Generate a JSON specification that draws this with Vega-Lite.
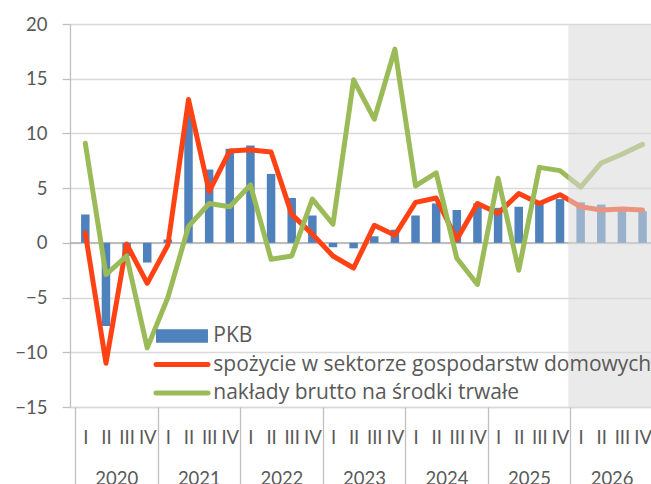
{
  "$schema": "https://vega.github.io/schema/vega-lite/v6.json",
  "width": 581,
  "height": 383,
  "autosize": {"type": "none"},
  "padding": {"left": 70, "top": 24, "right": 0, "bottom": 77},
  "background": "white",
  "config": {"view": {"stroke": null}, "font": "Lato"},
  "data": {
    "values": [
      {"t": 0, "pkb": 2.6, "kons": 0.9, "inw": 9.1},
      {"t": 1, "pkb": -7.6, "kons": -11.0, "inw": -2.9},
      {"t": 2, "pkb": -1.2, "kons": -0.1, "inw": -1.2},
      {"t": 3, "pkb": -1.8, "kons": -3.7, "inw": -9.6},
      {"t": 4, "pkb": 0.3, "kons": -0.2, "inw": -5.0},
      {"t": 5, "pkb": 11.8, "kons": 13.1, "inw": 1.5},
      {"t": 6, "pkb": 6.7, "kons": 4.7, "inw": 3.6},
      {"t": 7, "pkb": 8.6, "kons": 8.4, "inw": 3.3},
      {"t": 8, "pkb": 8.9, "kons": 8.5, "inw": 5.3},
      {"t": 9, "pkb": 6.3, "kons": 8.3, "inw": -1.5},
      {"t": 10, "pkb": 4.1, "kons": 2.6, "inw": -1.2},
      {"t": 11, "pkb": 2.5, "kons": 0.8, "inw": 4.0},
      {"t": 12, "pkb": -0.4, "kons": -1.2, "inw": 1.7},
      {"t": 13, "pkb": -0.5, "kons": -2.3, "inw": 14.9},
      {"t": 14, "pkb": 0.6, "kons": 1.6, "inw": 11.3},
      {"t": 15, "pkb": 1.2, "kons": 0.7, "inw": 17.7},
      {"t": 16, "pkb": 2.5, "kons": 3.7, "inw": 5.2},
      {"t": 17, "pkb": 3.6, "kons": 4.1, "inw": 6.4},
      {"t": 18, "pkb": 3.0, "kons": 0.3, "inw": -1.4},
      {"t": 19, "pkb": 3.6, "kons": 3.6, "inw": -3.8},
      {"t": 20, "pkb": 3.2, "kons": 2.7, "inw": 5.9},
      {"t": 21, "pkb": 3.3, "kons": 4.5, "inw": -2.5},
      {"t": 22, "pkb": 3.6, "kons": 3.6, "inw": 6.9},
      {"t": 23, "pkb": 4.0, "kons": 4.4, "inw": 6.6},
      {"t": 24, "pkb": 3.7, "kons": 3.3, "inw": 5.1},
      {"t": 25, "pkb": 3.5, "kons": 3.0, "inw": 7.3},
      {"t": 26, "pkb": 3.2, "kons": 3.1, "inw": 8.1},
      {"t": 27, "pkb": 2.9, "kons": 3.0, "inw": 9.0}
    ]
  },
  "layer": [
    {
      "data": {"values": [{}]},
      "mark": {"type": "rule", "color": "#a6a6a6", "strokeWidth": 1.3},
      "encoding": {
        "y": {"datum": 0, "type": "quantitative"}
      }
    },
    {
      "mark": {"type": "bar", "width": 8.5, "orient": "vertical", "clip": true},
      "encoding": {
        "x": {
          "field": "t",
          "type": "quantitative",
          "scale": {"domain": [-0.5, 27.1667], "nice": false, "zero": false},
          "axis": {
            "orient": "bottom",
            "values": [0,1,2,3,4,5,6,7,8,9,10,11,12,13,14,15,16,17,18,19,20,21,22,23,24,25,26,27],
            "labelExpr": "['I','II','III','IV'][datum.value % 4]",
            "ticks": false,
            "domain": true,
            "domainColor": "#d9d9d9",
            "domainWidth": 1.3,
            "grid": false,
            "labelFontSize": 18.5,
            "labelFont": "Lato",
            "labelColor": "#595959",
            "labelPadding": 30,
            "labelBaseline": "middle",
            "labelFlush": false,
            "labelOverlap": false,
            "labelBound": false,
            "title": null
          }
        },
        "y": {
          "field": "pkb",
          "type": "quantitative",
          "stack": null,
          "scale": {"domain": [-15, 20], "nice": false, "zero": false},
          "axis": {
            "values": [-15, -10, -5, 0, 5, 10, 15, 20],
            "grid": true,
            "gridColor": "#d9d9d9",
            "gridWidth": 1.3,
            "domain": true,
            "domainColor": "#bfbfbf",
            "domainWidth": 1.3,
            "ticks": true,
            "tickSize": 8,
            "tickColor": "#bfbfbf",
            "tickWidth": 1.3,
            "labelFontSize": 18.5,
            "labelColor": "#595959",
            "labelPadding": 15,
            "labelFont": "Lato",
            "title": null
          }
        },
        "color": {
          "datum": "PKB",
          "scale": {
            "domain": ["PKB", "spożycie w sektorze gospodarstw domowych", "nakłady brutto na środki trwałe"],
            "range": ["#4f81bd", "#ff4213", "#9bbb59"]
          },
          "legend": {
            "orient": "none",
            "legendX": 101.5,
            "legendY": 301.6,
            "title": null,
            "padding": 0,
            "symbolType": "M-5,0H5",
            "symbolSize": 108,
            "symbolStrokeWidth": 5,
            "symbolOffset": 0,
            "labelOffset": 20.8,
            "labelFontSize": 21,
            "labelFont": "Open Sans",
            "labelColor": "#595959",
            "labelLimit": 1000,
            "rowPadding": 6.5,
            "encode": {
              "symbols": {
                "update": {
                  "shape": {"signal": "datum.index === 0 ? 'M-5,-1.3H5V1.3H-5Z' : 'M-5,0H5'"},
                  "fill": {"signal": "datum.index === 0 ? '#4f81bd' : 'transparent'"},
                  "stroke": {"signal": "datum.index === 0 ? 'transparent' : (datum.index === 1 ? '#ff4213' : '#9bbb59')"},
                  "strokeWidth": {"signal": "datum.index === 0 ? 0 : 5"},
                  "strokeCap": {"value": "round"},
                  "opacity": {"value": 1}
                }
              }
            }
          }
        }
      }
    },
    {
      "mark": {"type": "line", "strokeWidth": 5, "strokeJoin": "round", "strokeCap": "round", "clip": true},
      "encoding": {
        "x": {
          "field": "t",
          "type": "quantitative",
          "axis": {
            "orient": "bottom",
            "values": [1.5, 5.5, 9.5, 13.5, 17.5, 21.5, 25.5],
            "labelExpr": "'' + (2020 + (datum.value - 1.5) / 4)",
            "ticks": false,
            "domain": false,
            "grid": false,
            "labelFontSize": 18.5,
            "labelFont": "Lato",
            "labelColor": "#595959",
            "labelPadding": 71,
            "labelBaseline": "middle",
            "labelFlush": false,
            "labelOverlap": false,
            "labelBound": false,
            "title": null
          }
        },
        "y": {"field": "kons", "type": "quantitative"},
        "color": {"datum": "spożycie w sektorze gospodarstw domowych"}
      }
    },
    {
      "mark": {"type": "line", "strokeWidth": 5, "strokeJoin": "round", "strokeCap": "round", "clip": true},
      "encoding": {
        "x": {
          "field": "t",
          "type": "quantitative",
          "axis": {
            "orient": "bottom",
            "values": [-0.5, 3.5, 7.5, 11.5, 15.5, 19.5, 23.5],
            "labels": false,
            "ticks": true,
            "tickSize": 77,
            "tickColor": "#bfbfbf",
            "tickWidth": 1.3,
            "domain": false,
            "grid": false,
            "title": null
          }
        },
        "y": {"field": "inw", "type": "quantitative"},
        "color": {"datum": "nakłady brutto na środki trwałe"}
      }
    },
    {
      "data": {"values": [{}]},
      "mark": {"type": "rect", "fill": "#d9d9d9", "opacity": 0.55, "clip": true},
      "encoding": {
        "x": {"datum": 23.4, "type": "quantitative", "axis": null},
        "x2": {"datum": 27.5},
        "y": {"datum": 20, "type": "quantitative"},
        "y2": {"datum": -15}
      }
    }
  ],
  "resolve": {"axis": {"x": "independent", "y": "shared"}}
}
